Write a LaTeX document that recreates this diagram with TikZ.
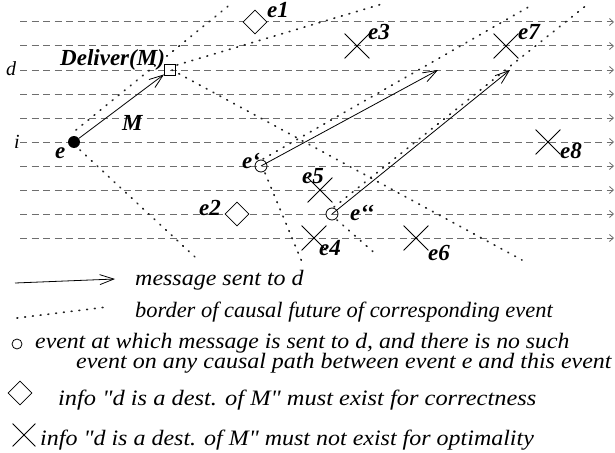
\documentclass[tikz,border=0pt]{standalone}
\usepackage{fontspec}
\usepackage{graphicx}
\setmainfont{Liberation Serif}
\usetikzlibrary{arrows.meta,shapes.geometric,shapes.misc}
\definecolor{procgray}{HTML}{6E6E6E}
\definecolor{dotgray}{HTML}{222222}
\begin{document}
\begin{tikzpicture}[x=1pt,y=-1pt,
  proc/.style={draw=procgray, line width=1pt, dash pattern=on 7pt off 4.5pt,
    -{Straight Barb[length=4pt,width=7pt,line width=0.8pt]}},
  border/.style={draw=dotgray, line width=1.7pt, line cap=round, dash pattern=on 0.8pt off 7pt},
  msg/.style={line width=0.8pt, -{Straight Barb[length=14pt,width=10pt,line width=0.8pt]}},
  evdot/.style={circle, fill=black, inner sep=0pt, minimum size=12pt},
  evopen/.style={circle, draw, line width=0.8pt, inner sep=0pt, minimum size=12pt},
  box/.style={rectangle, draw, line width=0.8pt, inner sep=0pt, minimum size=11pt},
  diam/.style={diamond, draw, fill=white, line width=0.8pt, inner sep=0pt, minimum size=24pt},
  xmark/.style={cross out, draw, line width=0.8pt, inner sep=0pt, minimum size=24pt},
  lbl/.style={font=\fontsize{23}{23}\selectfont\bfseries\itshape, inner sep=0pt, anchor=base west},
  plbl/.style={font=\fontsize{20}{20}\selectfont\itshape, inner sep=0pt, anchor=base west},
  legtxt/.style={font=\fontsize{22}{22}\selectfont\itshape, inner sep=0pt, anchor=base west}
]
\useasboundingbox (0,0) rectangle (615,452);

% process lines
\foreach \k in {0,...,9} {
  \coordinate (L\k) at (20,22+24*\k);
  \coordinate (R\k) at (614,22+24*\k);
  \draw[proc] (L\k) -- (R\k);
}
\node[plbl] (dlab) at (6,75) {d};
\node[plbl] (ilab) at (14,148) {i};

% causal future borders
\coordinate (b1s) at (76,130);  \coordinate (b1e) at (232,3);
\coordinate (b2s) at (80,150);  \coordinate (b2e) at (195,257);
\coordinate (b3s) at (177,65);  \coordinate (b3e) at (382,4);
\coordinate (b4s) at (172,70);  \coordinate (b4e) at (522,260);
\coordinate (b5s) at (263,159); \coordinate (b5e) at (532,5);
\coordinate (b6s) at (265,173); \coordinate (b6e) at (302,262);
\coordinate (b7s) at (334,207); \coordinate (b7e) at (588,4);
\coordinate (b8s) at (337,220); \coordinate (b8e) at (378,256);
\foreach \b in {1,...,8} { \draw[border] (b\b s) -- (b\b e); }

% events
\node[evdot] (e) at (74,142) {};
\node[box] (dlv) at (170,70) {};
\node[diam] (e1) at (255,22) {};
\node[diam] (e2) at (237,214) {};
\node[xmark] (e3) at (357,46) {};
\node[xmark] (e4) at (314,238) {};
\node[xmark] (e5) at (320,190) {};
\node[xmark] (e6) at (416,238) {};
\node[xmark] (e7) at (506,46) {};
\node[xmark] (e8) at (548,142) {};
\node[evopen] (ep) at (261,166) {};
\node[evopen] (epp) at (332,214) {};

% messages
\coordinate (m1) at (438,70);
\coordinate (m2) at (510,70);
\draw[msg] (e) -- (dlv);
\draw[msg] (ep.center) -- (m1);
\draw[msg] (epp.center) -- (m2);

% labels
\node[lbl] (le)   at (55,158)  {e};
\node[lbl] (lM)   at (122,130) {M};
\node[lbl] (ldlv) at (60,65)   {Deliver(M)};
\node[lbl] (le1)  at (267,18)  {e1};
\node[lbl] (le2)  at (199,215) {e2};
\node[lbl] (le3)  at (368,40)  {e3};
\node[lbl] (le4)  at (319,255) {e4};
\node[lbl] (le5)  at (302,183) {e5};
\node[lbl] (le6)  at (428,260) {e6};
\node[lbl] (le7)  at (518,40)  {e7};
\node[lbl] (le8)  at (560,158) {e8};
\node[lbl] (lep)  at (242,168) {e‘};
\node[lbl] (lepp) at (350,220) {e‘‘};

% legend
\coordinate (la1) at (15,283); \coordinate (la2) at (115,279);
\draw[msg] (la1) -- (la2);
\node[legtxt] (ta) at (135,285) {\scalebox{1.09}[1]{message sent to d}};
\coordinate (lb1) at (17,318); \coordinate (lb2) at (107,307);
\draw[border] (lb1) -- (lb2);
\node[legtxt] (tb) at (135,317) {\scalebox{1.02}[1]{border of causal future of corresponding event}};
\node[evopen, minimum size=10pt] (lc) at (17,344) {};
\node[legtxt] (tc) at (35,348) {\scalebox{1.08}[1]{event at which message is sent to d, and there is no such}};
\node[legtxt] (tc2) at (76,368) {\scalebox{1.09}[1]{event on any causal path between event e and this event}};
\node[diam] (ld) at (20,393) {};
\node[legtxt] (td) at (58,405) {\scalebox{1.11}[1]{info \textquotedbl d is a dest. of M\textquotedbl{} must exist for correctness}};
\node[xmark, minimum size=22pt] (lx) at (24,435) {};
\node[legtxt] (tx) at (40,445) {\scalebox{1.09}[1]{info \textquotedbl d is a dest. of M\textquotedbl{} must not exist for optimality}};
\end{tikzpicture}
\end{document}
